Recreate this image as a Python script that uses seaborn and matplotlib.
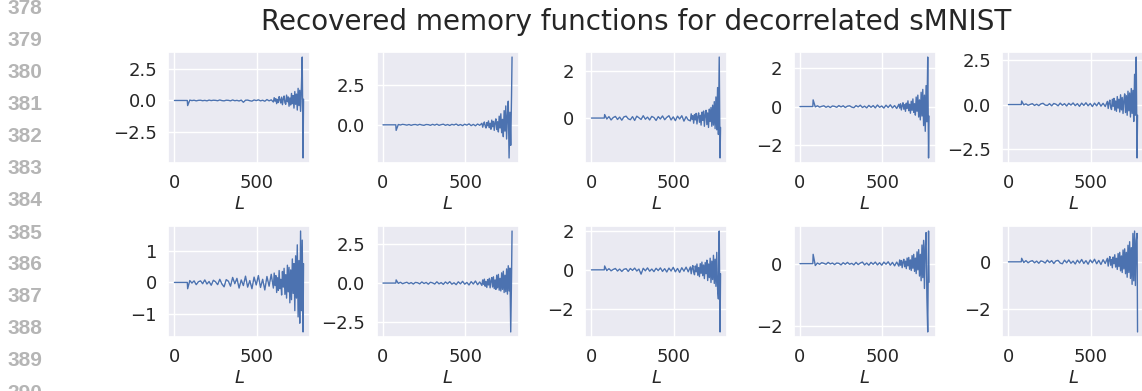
import numpy as np
import matplotlib
matplotlib.use("Agg")
import matplotlib.pyplot as plt
import seaborn as sns

# index grid (L): flat start, then coarse steps, then finer steps near the end
L = [0, 78] + list(range(80, 600, 13)) + list(range(600, 781, 5)) + [783]

# ---- top row ----
mid1 = [-0.40, 0.03, -0.01, 0.02, -0.03, 0.01, 0.02, -0.02, 0.01, -0.03,
        0.03, -0.01, 0.02, 0.01, -0.02, 0.04, -0.01, -0.03, 0.02, 0.01,
        -0.03, 0.04, -0.02, 0.01, -0.04, 0.03, -0.14, 0.02, 0.03, -0.02,
        -0.05, 0.04, -0.01, 0.05, -0.03, 0.02, -0.06, 0.07, -0.03, 0.05]
tail1 = [-0.12, 0.22, -0.05, 0.14, -0.25, 0.08, -0.16, 0.3, 0.05, -0.2,
         0.26, -0.33, 0.12, 0.35, -0.18, -0.3, 0.42, -0.1, 0.28, -0.45,
         0.2, -0.35, 0.55, -0.25, 0.38, -0.6, 0.7, -0.3, 0.5, -0.75,
         0.95, -0.4, 0.8, -0.85, 1.05, 3.4, -4.5]
end1 = 0.1

mid2 = [-0.35, 0.02, -0.01, 0.03, 0.01, -0.02, 0.02, -0.03, 0.01, 0.02,
        -0.02, 0.03, -0.01, -0.03, 0.02, 0.01, -0.03, 0.03, -0.02, 0.04,
        -0.03, 0.01, 0.04, -0.03, 0.02, -0.04, 0.03, -0.01, 0.05, -0.04,
        0.02, -0.05, 0.04, -0.02, 0.06, -0.05, 0.03, -0.06, 0.05, -0.03]
tail2 = [0.1, -0.15, 0.05, 0.18, -0.08, -0.2, 0.14, -0.06, 0.25, -0.18,
         0.1, -0.28, 0.3, -0.12, 0.22, -0.35, 0.15, 0.38, -0.3, 0.2,
         -0.45, 0.55, -0.2, 0.7, -0.5, 0.35, -0.75, 0.9, -0.4, 1.2,
         -0.9, 0.6, 1.5, -2.1, 0.8, -1.3, 1.9]
end2 = 4.3

mid3 = [0.15, -0.04, 0.06, -0.08, 0.02, 0.07, -0.06, 0.04, -0.09, 0.05,
        0.08, -0.03, -0.07, 0.06, -0.1, 0.08, 0.01, -0.06, 0.1, -0.05,
        0.04, -0.08, 0.07, 0.02, -0.1, 0.06, -0.04, 0.09, -0.07, 0.03,
        0.1, -0.08, 0.05, -0.11, 0.08, -0.04, 0.1, -0.13, 0.06, -0.08]
tail3 = [-0.12, 0.18, -0.05, 0.1, -0.22, 0.15, -0.08, 0.2, -0.25, 0.06,
         0.22, -0.18, 0.12, -0.3, 0.25, -0.1, 0.3, -0.35, 0.15, 0.33,
         -0.28, 0.22, -0.4, 0.38, -0.15, 0.45, -0.35, 0.55, -0.3, 0.7,
         -0.45, 0.9, -0.5, 1.3, -0.7, 2.6, -1.7]
end3 = -0.4

mid4 = [0.35, -0.02, 0.04, -0.03, 0.01, 0.04, -0.04, 0.02, -0.05, 0.03,
        0.01, -0.04, 0.05, -0.02, 0.04, -0.05, 0.02, 0.04, -0.03, -0.06,
        0.05, -0.02, 0.07, -0.05, 0.02, -0.07, 0.06, -0.04, 0.05, -0.07,
        0.08, -0.04, 0.03, -0.08, 0.07, -0.05, 0.09, -0.07, 0.05, -0.1]
tail4 = [0.12, -0.08, 0.15, -0.18, 0.05, 0.2, -0.14, 0.1, -0.25, 0.18,
         -0.1, 0.3, -0.22, 0.12, -0.35, 0.28, -0.2, 0.4, -0.3, 0.15,
         -0.45, 0.5, -0.25, 0.6, -0.55, 0.35, -0.7, 0.75, -0.5, 0.9,
         -1.0, 0.6, -1.3, 1.1, -0.8, 2.6, -2.7]
end4 = -0.5

mid5 = [0.2, -0.02, 0.04, -0.04, 0.01, 0.05, -0.05, 0.02, -0.06, 0.04,
        0.07, -0.03, -0.05, 0.05, -0.07, 0.06, 0.02, -0.07, 0.08, -0.04,
        0.05, -0.08, 0.07, -0.03, 0.09, -0.06, 0.05, -0.1, 0.08, -0.05,
        0.1, -0.07, 0.06, -0.11, 0.08, -0.07, 0.12, -0.09, 0.07, -0.11]
tail5 = [0.18, -0.22, 0.1, 0.25, -0.15, -0.28, 0.3, -0.1, 0.35, -0.32,
         0.2, -0.38, 0.45, -0.2, 0.3, -0.42, 0.55, -0.3, 0.4, -0.5,
         0.25, 0.6, -0.45, 0.5, -0.6, 0.75, -0.35, 0.65, -0.7, 0.9,
         -0.5, 0.8, -0.95, 1.7, -0.6, 2.67, -3.0]
end5 = -0.6

# ---- bottom row ----
mid6 = [-0.2, 0.06, -0.02, 0.05, -0.07, 0.02, 0.05, -0.04, 0.08, -0.05,
        0.03, -0.09, 0.07, 0.02, -0.07, 0.1, -0.05, -0.14, 0.09, 0.04,
        -0.12, 0.16, -0.04, 0.13, -0.18, 0.08, -0.1, 0.2, -0.15, 0.06,
        -0.2, 0.17, -0.08, 0.22, -0.16, 0.1, -0.24, 0.19, -0.12, 0.26]
tail6 = [-0.18, 0.3, -0.1, 0.22, -0.32, 0.15, -0.25, 0.38, -0.2, 0.1,
         -0.4, 0.35, -0.15, 0.45, -0.38, 0.25, -0.5, 0.55, -0.3, 0.48,
         -0.65, 0.4, -0.55, 0.75, -0.35, 0.6, -0.9, 0.85, -0.5, 1.2,
         -1.1, 0.7, -1.3, 1.64, -0.9, 1.35, -1.58]
end6 = 0.6

mid7 = [0.2, -0.02, 0.05, -0.04, 0.01, 0.05, -0.04, 0.03, -0.06, 0.04,
        0.02, -0.05, 0.07, -0.03, 0.04, -0.07, 0.05, 0.01, -0.06, 0.08,
        -0.05, 0.03, -0.08, 0.07, -0.04, 0.09, -0.07, 0.02, -0.1, 0.08,
        -0.05, 0.11, -0.07, 0.04, -0.12, 0.09, -0.06, 0.13, -0.1, 0.07]
tail7 = [-0.15, 0.2, -0.08, 0.25, -0.2, 0.1, -0.28, 0.22, -0.12, 0.3,
         -0.3, 0.15, 0.35, -0.25, 0.4, -0.35, 0.2, -0.4, 0.5, -0.3,
         0.55, -0.45, 0.3, -0.5, 0.65, -0.4, 0.75, -0.6, 0.5, -0.55,
         0.9, -0.7, 1.1, -0.5, 0.95, -3.1, 0.4]
end7 = 3.3

mid8 = [0.2, -0.04, 0.06, -0.05, 0.02, 0.07, -0.06, 0.04, -0.08, 0.03,
        0.06, -0.08, 0.07, -0.03, 0.09, -0.06, 0.04, -0.22, 0.08, -0.05,
        0.1, -0.07, 0.04, -0.09, 0.08, -0.04, 0.1, -0.08, 0.06, -0.11,
        0.09, -0.06, 0.13, -0.1, 0.07, -0.13, 0.11, -0.07, 0.14, -0.1]
tail8 = [0.15, -0.2, 0.08, 0.22, -0.12, -0.25, 0.2, -0.1, 0.3, -0.28,
         0.12, -0.35, 0.32, -0.18, 0.4, -0.3, 0.25, -0.45, 0.38, -0.2,
         0.5, -0.55, 0.3, -0.4, 0.6, -0.65, 0.45, -0.5, 0.75, -0.7,
         0.55, -0.85, 0.9, -1.0, -1.5, 2.0, -3.2]
end8 = -0.2

mid9 = [0.3, -0.06, 0.02, -0.02, 0.03, 0.01, -0.02, 0.04, -0.01, 0.02,
        -0.03, 0.02, 0.01, -0.04, 0.03, -0.02, 0.04, -0.02, 0.01, -0.04,
        0.04, -0.03, 0.02, 0.05, -0.04, 0.02, -0.05, 0.04, -0.02, 0.05,
        -0.04, 0.03, -0.05, 0.05, -0.02, 0.06, -0.05, 0.04, -0.07, 0.05]
tail9 = [-0.08, 0.12, -0.05, 0.1, -0.13, 0.06, 0.14, -0.1, 0.08, -0.16,
         0.18, -0.07, 0.2, -0.18, 0.12, -0.22, 0.26, -0.15, 0.3, -0.25,
         0.18, -0.32, 0.38, -0.2, 0.45, -0.4, 0.3, -0.55, 0.6, -0.45,
         0.75, -0.8, 0.55, 1.0, -1.1, -2.2, 1.05]
end9 = -0.6

mid10 = [0.15, -0.03, 0.05, -0.04, 0.02, 0.05, -0.04, 0.03, -0.06, 0.04,
         0.01, -0.05, 0.07, -0.03, 0.05, -0.07, 0.04, 0.06, -0.05, -0.08,
         0.07, -0.04, 0.08, -0.06, 0.03, -0.09, 0.07, -0.05, 0.1, -0.07,
         0.05, -0.1, 0.08, -0.04, 0.11, -0.08, 0.06, -0.11, 0.09, -0.07]
tail10 = [0.15, -0.18, 0.08, 0.22, -0.14, 0.1, -0.25, 0.2, -0.08, 0.3,
          -0.22, 0.15, -0.32, 0.35, -0.2, 0.4, -0.38, 0.25, -0.45, 0.5,
          -0.3, 0.55, -0.5, 0.4, -0.65, 0.7, -0.45, 0.85, -0.7, 0.6,
          -0.95, 1.2, -0.8, 1.3, -1.0, 0.9, 1.2]
end10 = -2.96

mids = [mid1, mid2, mid3, mid4, mid5, mid6, mid7, mid8, mid9, mid10]
tails = [tail1, tail2, tail3, tail4, tail5, tail6, tail7, tail8, tail9, tail10]
ends = [end1, end2, end3, end4, end5, end6, end7, end8, end9, end10]

line_numbers = list(range(378, 391))
titulo = "Recovered memory functions for decorrelated sMNIST"

sns.set_theme(style="darkgrid")
plt.rcParams['font.family'] = ['DejaVu Sans']

W, H = 1142, 391
fig = plt.figure(figsize=(W / 100, H / 100), dpi=100)

# axes placement in pixels
ax_w, ax_h = 142, 111
lefts = [168, 376.5, 585, 793.5, 1002]
tops = [52, 226]

color = sns.color_palette()[0]
for i in range(10):
    r, c = divmod(i, 5)
    ax = fig.add_axes([lefts[c] / W, 1 - (tops[r] + ax_h) / H, ax_w / W, ax_h / H])
    vals = [0.0, 0.0] + mids[i] + tails[i] + [ends[i]]
    sns.lineplot(x=L, y=vals, ax=ax, color=color, linewidth=1.0)
    ax.set_xlabel("$L$", fontsize=13, labelpad=2)
    ax.set_ylabel("")
    ax.tick_params(axis='both', labelsize=13, length=0, pad=8)

fig.text(0.557, 1 - 30 / H, titulo, ha='center', va='baseline', fontsize=20, color='#262626')

for k, n in enumerate(line_numbers):
    fig.text(8 / W, 1 - (9 + 32.0 * k) / H, str(n), ha='left', va='center',
             fontsize=15, fontweight='bold', color='#b5b5b5', family='Liberation Sans')

fig.savefig("out.png", dpi=100)
